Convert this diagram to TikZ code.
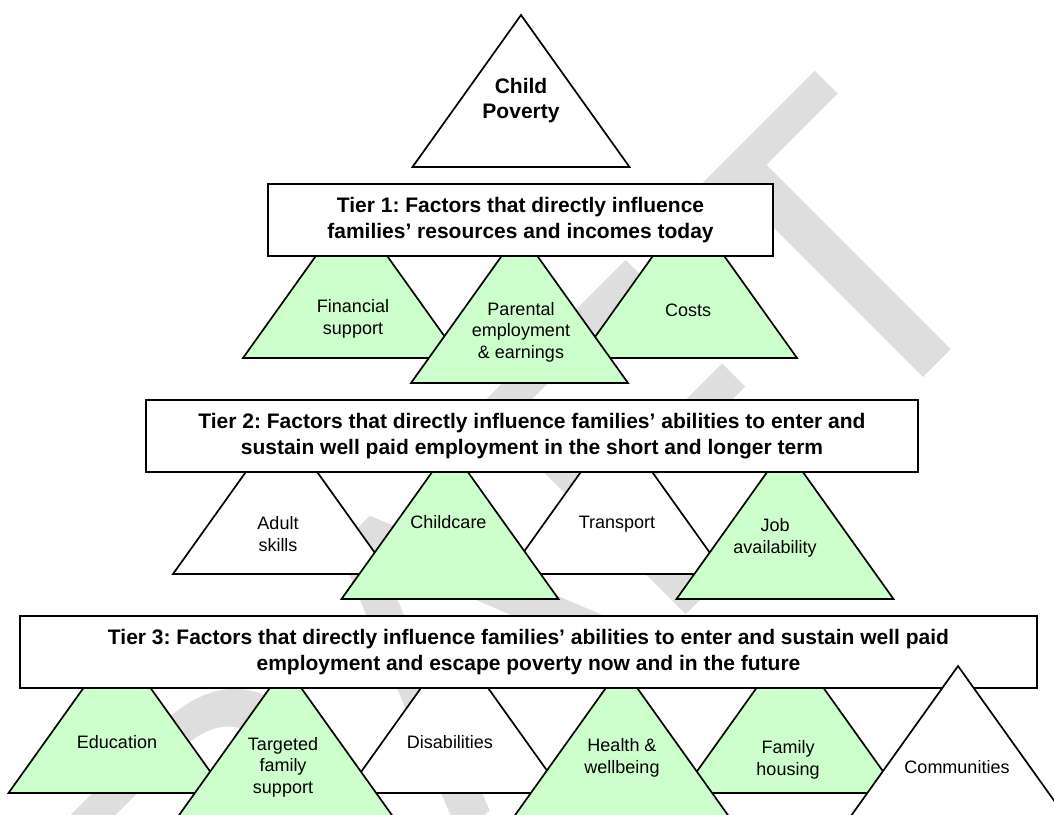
\documentclass[tikz,border=0pt]{standalone}
\usepackage{fontspec}
\setmainfont{Liberation Sans}
\frenchspacing
\definecolor{tgreen}{HTML}{CCFFCC}
\definecolor{wmgray}{HTML}{DEDEDE}
\begin{document}
\begin{tikzpicture}[x=1pt,y=-1pt,
  tri/.style={draw=black, line width=1.7pt, line join=miter},
  lab/.style={font=\frenchspacing\fontsize{18}{21.5}\selectfont, align=center, anchor=base, inner sep=0pt},
  hdr/.style={font=\frenchspacing\bfseries\fontsize{21}{25}\selectfont, align=center, inner sep=0pt},
  tierbox/.style={draw=black, fill=white, line width=1.7pt, inner sep=0pt},
  wmark/.style={text=wmgray, font=\fontsize{426}{426}\selectfont, inner sep=0pt, outer sep=0pt}]
\clip (0,0) rectangle (1054,814);
\fill[white] (0,0) rectangle (1054,814);
% watermark
\node[wmark, anchor=base east, rotate=45] (wm) at (1030,271) {DRAFT};
\newcommand\mytri[3]{\draw[tri, fill=#3] (#1,#2-152) -- (#1+108.5,#2) -- (#1-108.5,#2) -- cycle;}
% top
\mytri{521}{167}{white}
\node[hdr, anchor=base] (cp) at (521,118) {Child\\Poverty};
% tier 1
\mytri{351.5}{358}{tgreen}
\mytri{688.5}{358}{tgreen}
\mytri{519.5}{383}{tgreen}
\node[tierbox, minimum width=505, minimum height=72] (t1) at (520.5,220)
  {\frenchspacing\bfseries\fontsize{21}{26}\selectfont\begin{tabular}{@{}c@{}}Tier 1: Factors that directly influence\\families’ resources and incomes today\end{tabular}};
\node[lab] (fin) at (353,334) {Financial\\support};
\node[lab] (par) at (521,358) {Parental\\employment\\\& earnings};
\node[lab] (cos) at (688,316) {Costs};
% tier 2
\mytri{281.5}{574}{white}
\mytri{616.5}{574}{white}
\mytri{450}{599}{tgreen}
\mytri{785}{599}{tgreen}
\node[tierbox, minimum width=772, minimum height=72] (t2) at (532,436)
  {\frenchspacing\bfseries\fontsize{21}{26.5}\selectfont\begin{tabular}{@{}c@{}}Tier 2: Factors that directly influence families’ abilities to enter and\\sustain well paid employment in the short and longer term\end{tabular}};
\node[lab] (adu) at (278,551) {Adult\\skills};
\node[lab] (chi) at (448.5,528) {Childcare};
\node[lab] (tra) at (617,528) {Transport};
\node[lab] (job) at (775,553) {Job\\availability};
% tier 3
\mytri{117}{793}{tgreen}
\mytri{454.5}{793}{white}
\mytri{790}{793}{tgreen}
\mytri{285.5}{818}{tgreen}
\mytri{621.5}{818}{tgreen}
\node[tierbox, minimum width=1017, minimum height=72] (t3) at (528.5,652)
  {\frenchspacing\bfseries\fontsize{21}{26}\selectfont\begin{tabular}{@{}c@{}}Tier 3: Factors that directly influence families’ abilities to enter and sustain well paid\\employment and escape poverty now and in the future\end{tabular}};
\mytri{958}{818}{white}
\node[lab] (edu) at (117,748) {Education};
\node[lab] (tar) at (283,793) {Targeted\\family\\support};
\node[lab] (dis) at (450,748) {Disabilities};
\node[lab] (hea) at (622,773) {Health \&\\wellbeing};
\node[lab] (fam) at (788,775) {Family\\housing};
\node[lab] (com) at (957,773) {Communities};
\end{tikzpicture}
\end{document}
